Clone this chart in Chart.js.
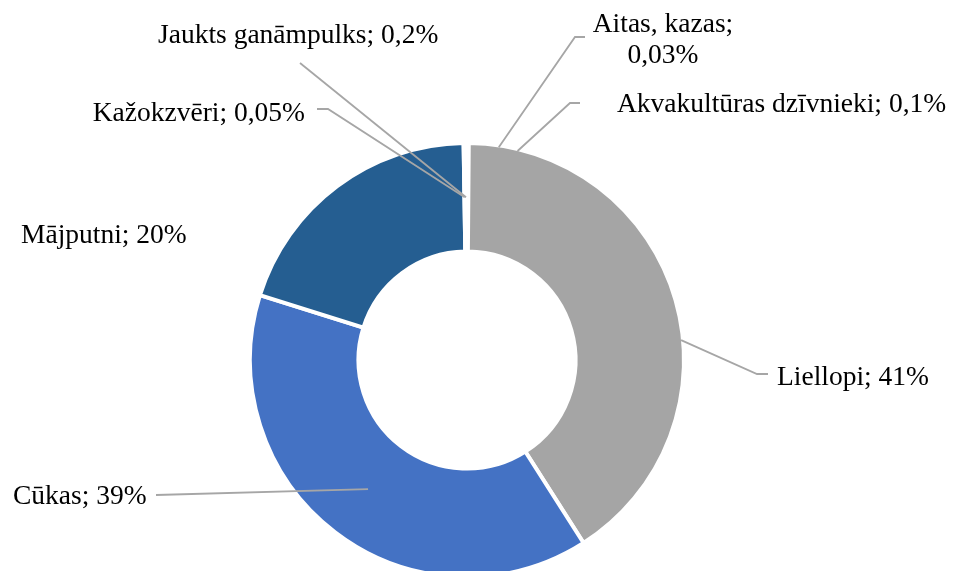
<!DOCTYPE html>
<html>
<head>
<meta charset="utf-8">
<script src="https://cdn.jsdelivr.net/npm/chart.js@4.4.1/dist/chart.umd.min.js"></script>
<style>
html,body{margin:0;padding:0;background:#ffffff;overflow:hidden}
#wrap{width:954px;height:571px;position:relative}
</style>
</head>
<body>
<div id="wrap"><canvas id="c" width="954" height="571"></canvas></div>
<script>
// ---- data ----
const categories = ['Aitas, kazas', 'Akvakultūras dzīvnieki', 'Liellopi', 'Cūkas', 'Mājputni', 'Kažokzvēri', 'Jaukts ganāmpulks'];
const shares = [0.03, 0.1, 41, 39, 20, 0.05, 0.2];

// ---- styles ----
const sliceColors = ['#FFFFFF', '#FFFFFF', '#A5A5A5', '#4472C4', '#255E91', '#FFFFFF', '#FFFFFF'];

// ---- label layout (per slice, same order as categories) ----
const labelLayout = [
  {x: 663, y: 32, align: 'center', twoLines: true, from: [585, 37], elbow: [575, 37], anchor: {angle: 8.5}},
  {x: 617, y: 112, align: 'left', from: [580, 103], elbow: [570, 103], anchor: {angle: 13.6}},
  {x: 777, y: 385, align: 'left', from: [768, 374], elbow: [757, 374], anchor: {angle: 84.7}},
  {x: 13, y: 504, align: 'left', from: [156, 495], anchor: 'center'},
  {x: 21, y: 243, align: 'left'},
  {x: 305, y: 121, align: 'right', from: [317, 109], elbow: [328, 109], anchor: 'center'},
  {x: 158, y: 43, align: 'left', from: [300, 63], anchor: 'center'}
];

function fmt(v) { return String(v).replace('.', ',') + '%'; }

const labelPlugin = {
  id: 'sliceLabels',
  afterDatasetsDraw(chart) {
    const ctx = chart.ctx;
    const meta = chart.getDatasetMeta(0);
    const bw = chart.data.datasets[0].borderWidth;
    ctx.save();
    // leader lines
    ctx.strokeStyle = '#A6A6A6';
    ctx.lineWidth = 1.8;
    meta.data.forEach((arc, i) => {
      const L = labelLayout[i];
      if (!L || !L.from) return;
      const p = arc.getProps(['x', 'y', 'outerRadius'], true);
      let ax, ay;
      if (L.anchor === 'center') {
        const c = arc.getCenterPoint(true);
        ax = c.x; ay = c.y;
      } else {
        const a = L.anchor.angle * Math.PI / 180;
        const r = p.outerRadius - bw / 2;
        ax = p.x + r * Math.sin(a);
        ay = p.y - r * Math.cos(a);
      }
      ctx.beginPath();
      ctx.moveTo(L.from[0], L.from[1]);
      if (L.elbow) ctx.lineTo(L.elbow[0], L.elbow[1]);
      ctx.lineTo(ax, ay);
      ctx.stroke();
    });
    // texts
    ctx.fillStyle = '#000000';
    ctx.font = '27.5px "Liberation Serif", "Times New Roman", serif';
    ctx.textBaseline = 'alphabetic';
    categories.forEach((cat, i) => {
      const L = labelLayout[i];
      ctx.textAlign = L.align;
      if (L.twoLines) {
        ctx.fillText(cat + ';', L.x, L.y);
        ctx.fillText(fmt(shares[i]), L.x, L.y + 31);
      } else {
        ctx.fillText(cat + '; ' + fmt(shares[i]), L.x, L.y);
      }
    });
    ctx.restore();
  }
};

new Chart(document.getElementById('c'), {
  type: 'doughnut',
  data: {
    labels: categories,
    datasets: [{
      data: shares,
      backgroundColor: sliceColors,
      borderColor: '#FFFFFF',
      borderWidth: 4,
      clip: false
    }]
  },
  options: {
    responsive: false,
    animation: false,
    radius: 217,
    cutout: '50%',
    layout: {padding: {left: 0, right: 20, top: 149, bottom: 0}},
    plugins: {legend: {display: false}, tooltip: {enabled: false}}
  },
  plugins: [labelPlugin]
});
</script>
</body>
</html>
